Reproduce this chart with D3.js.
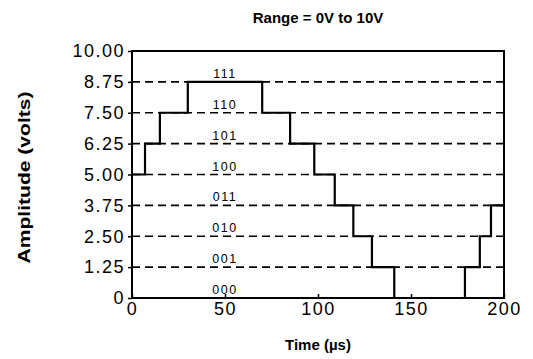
<!DOCTYPE html>
<html>
<head>
<meta charset="utf-8">
<script src="https://cdn.jsdelivr.net/npm/d3@7"></script>
<style>
  body { margin: 0; background: #fff; }
  text { font-family: "Liberation Sans", Arial, sans-serif; fill: #000; }
</style>
</head>
<body>
<div id="chart"></div>
<script>
(function () {

    // DAC staircase output, 3-bit, range 0V to 10V

    var times = [0, 7, 15, 30, 70, 85, 98, 109, 119, 129, 141, 179, 187, 193, 200];
    var volts = [5, 6.25, 7.5, 8.75, 7.5, 6.25, 5, 3.75, 2.5, 1.25, 0, 1.25, 2.5, 3.75, 3.75];

    var levelTicks = [0, 1.25, 2.5, 3.75, 5, 6.25, 7.5, 8.75, 10];
    var timeTicks = [0, 50, 100, 150, 200];
    var codes = ['000', '001', '010', '011', '100', '101', '110', '111'];
    var codeTime = 50;

    var width = 533, height = 359;
    var margin = { top: 51, right: 29, bottom: 61, left: 132 };
    var w = width - margin.left - margin.right;
    var h = height - margin.top - margin.bottom;

    var svg = d3.select('#chart')
        .append('svg')
        .attr('width', width)
        .attr('height', height);

    var g = svg.append('g')
        .attr('transform', 'translate(' + margin.left + ',' + margin.top + ')');

    var x = d3.scaleLinear().domain([0, 200]).range([0, w]);
    var y = d3.scaleLinear().domain([0, 10]).range([h, 0]);

    // dashed quantisation levels
    g.selectAll('.level')
        .data(levelTicks.slice(1, -1))
        .enter()
        .append('line')
        .attr('class', 'level')
        .attr('x1', 0)
        .attr('x2', w)
        .attr('y1', d => y(d))
        .attr('y2', d => y(d))
        .attr('stroke', '#000')
        .attr('stroke-width', 1.6)
        .attr('stroke-dasharray', '8,5');

    // code labels
    g.selectAll('.code')
        .data(codes)
        .enter()
        .append('text')
        .attr('class', 'code')
        .attr('x', x(codeTime))
        .attr('y', (d, i) => y(levelTicks[i]) - 4)
        .attr('text-anchor', 'middle')
        .style('font-size', '12.5px')
        .style('letter-spacing', '1.5px')
        .style('fill', '#000')
        .text(d => d);

    // staircase
    var line = d3.line()
        .x((d, i) => x(times[i]))
        .y(d => y(d))
        .curve(d3.curveStepAfter);

    g.append('path')
        .datum(volts)
        .attr('fill', 'none')
        .attr('stroke', '#000')
        .attr('stroke-width', 2.2)
        .attr('d', line);

    // frame
    g.append('rect')
        .attr('x', 0)
        .attr('y', 0)
        .attr('width', w)
        .attr('height', h)
        .attr('fill', 'none')
        .attr('stroke', '#000')
        .attr('stroke-width', 2);

    // axes
    var yAxis = g.append('g')
        .call(d3.axisLeft(y)
            .tickValues(levelTicks)
            .tickSize(4)
            .tickPadding(3)
            .tickFormat(d => d === 0 ? '0' : d3.format('.2f')(d)));

    var xAxis = g.append('g')
        .attr('transform', 'translate(0,' + h + ')')
        .call(d3.axisBottom(x)
            .tickValues(timeTicks)
            .tickSize(-4)
            .tickPadding(4)
            .tickFormat(d3.format('d')));

    [yAxis, xAxis].forEach(a => {
        a.select('.domain').remove();
        a.selectAll('line').attr('stroke', '#000').attr('stroke-width', 1.5);
        a.selectAll('text')
            .style('font-size', '18px')
            .style('letter-spacing', '1.5px')
            .style('font-family', '"Liberation Sans", Arial, sans-serif');
    });

    // titles
    svg.append('text')
        .attr('x', margin.left + w / 2)
        .attr('y', 23)
        .attr('text-anchor', 'middle')
        .style('font-size', '15px')
        .style('font-weight', 'bold')
        .text('Range = 0V to 10V');

    svg.append('text')
        .attr('x', margin.left + w / 2)
        .attr('y', 350)
        .attr('text-anchor', 'middle')
        .style('font-size', '15px')
        .style('font-weight', 'bold')
        .text('Time (\u00b5s)');

    svg.append('text')
        .attr('transform', 'rotate(-90)')
        .attr('x', -(margin.top + h / 2 + 3))
        .attr('y', 30)
        .attr('text-anchor', 'middle')
        .attr('textLength', 172)
        .attr('lengthAdjust', 'spacingAndGlyphs')
        .style('font-size', '16px')
        .style('font-weight', 'bold')
        .text('Amplitude (volts)');

})();
</script>
</body>
</html>
